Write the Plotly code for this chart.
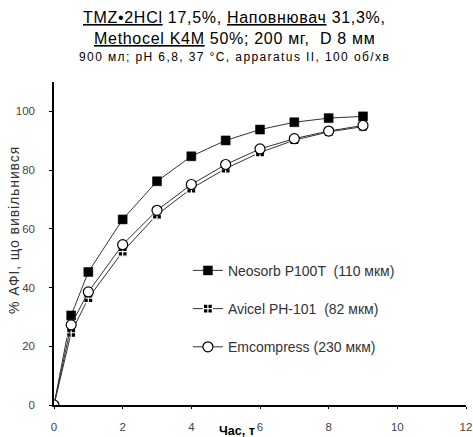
import plotly.graph_objects as go

time_h = [0, 0.5, 1, 2, 3, 4, 5, 6, 7, 8, 9]
neosorb = [0, 30.5, 45.3, 63.2, 76.2, 84.7, 90.1, 93.8, 96.3, 97.7, 98.3]
avicel = [0, 24.6, 36.4, 52.2, 64.8, 73.7, 80.5, 86.0, 90.2, 93.0, 94.8]
emcompress = [0, 27.3, 38.5, 54.6, 66.3, 75.1, 81.9, 87.2, 90.7, 93.3, 95.2]

names = ["Neosorb P100T  (110 мкм)", "Avicel PH-101  (82 мкм)", "Emcompress (230 мкм)"]

title_lines = [
    "<u>TMZ•2HCl</u> 17,5%, <u>Наповнювач</u> 31,3%,",
    "<u>Methocel K4M</u> 50%; 200 мг,  D 8 мм",
    "900 мл; pH 6,8, 37 °C, apparatus II, 100 об/хв",
]
y_title = "% АФІ, що вивільнився"
x_title = "Час, т"

FONT = "Liberation Sans, Arial, sans-serif"
LINE = "#333333"

fig = go.Figure()
fig.add_trace(go.Scatter(
    x=time_h, y=neosorb, name=names[0], mode="lines+markers", legendgroup="a",
    line=dict(color=LINE, width=1),
    marker=dict(symbol="square", size=9, color="black", line=dict(color="black", width=0.5)),
))
fig.add_trace(go.Scatter(
    x=time_h, y=avicel, name=names[1], mode="lines+markers", legendgroup="b",
    line=dict(color=LINE, width=1),
    marker=dict(symbol="square-cross", size=9, color="black", line=dict(color="white", width=1.2)),
))
fig.add_trace(go.Scatter(
    x=time_h, y=emcompress, name=names[2], mode="lines+markers", legendgroup="c",
    line=dict(color=LINE, width=1),
    marker=dict(symbol="circle", size=10, color="white", line=dict(color="black", width=1.2)),
))

fig.update_layout(
    width=473, height=437,
    margin=dict(l=54, r=7, t=82, b=32),
    paper_bgcolor="white", plot_bgcolor="white",
    font=dict(family=FONT, color="#333333", size=11),
    showlegend=True,
    legend=dict(x=0.325, y=0.465, xanchor="left", yanchor="top", bgcolor="rgba(0,0,0,0)",
                font=dict(family=FONT, size=14, color="#333333"), tracegroupgap=17,
                itemwidth=30),
    xaxis=dict(range=[0, 12], dtick=2, tick0=0, showgrid=False, zeroline=False,
               showline=True, linecolor="black", linewidth=1.5, automargin=False,
               ticks="outside", ticklen=2, tickcolor="black", ticklabelstandoff=8,
               tickfont=dict(family=FONT, size=11.5, color="#444444")),
    yaxis=dict(range=[0, 110], dtick=20, tick0=0, showgrid=False, zeroline=False,
               showline=True, linecolor="black", linewidth=1.5, automargin=False,
               ticks="outside", ticklen=3, tickcolor="black", ticklabelstandoff=12,
               tickfont=dict(family=FONT, size=11.5, color="#444444")),
)

title_y = [1.201, 1.136, 1.077]
title_size = [16, 16, 12]
title_ls = [0.7, 0.7, 1.4]
for txt, yy, sz, ls in zip(title_lines, title_y, title_size, title_ls):
    fig.add_annotation(text=f"<span style='letter-spacing:{ls}px'>{txt}</span>",
                       xref="paper", yref="paper", x=0.437, y=yy,
                       xanchor="center", yanchor="middle", showarrow=False,
                       font=dict(family=FONT, size=sz, color="black"))

fig.add_annotation(text=f"<span style='letter-spacing:0.9px'>{y_title}</span>",
                   xref="paper", yref="paper", x=-0.097, y=0.542,
                   xanchor="center", yanchor="middle", textangle=-90,
                   showarrow=False, font=dict(family=FONT, size=14, color="#333333"))

fig.add_annotation(text=f"<b>{x_title}</b>", xref="paper", yref="paper",
                   x=0.443, y=-0.08, xanchor="center", yanchor="middle",
                   showarrow=False, font=dict(family=FONT, size=12.5, color="black"))

fig.write_html("out.html", config={"displayModeBar": False},
               post_script="document.body.style.margin='0px';")
